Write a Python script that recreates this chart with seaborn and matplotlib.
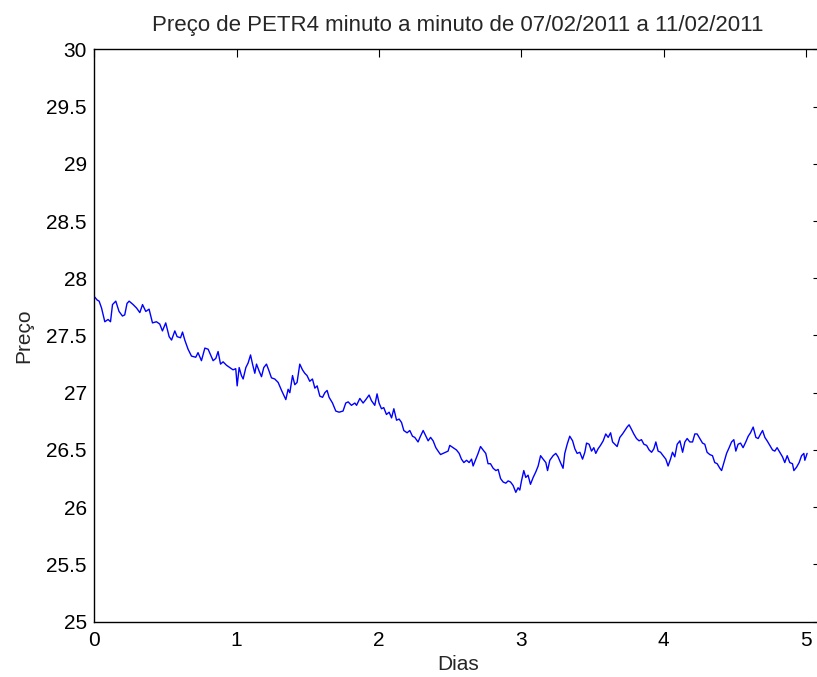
import matplotlib
matplotlib.use("Agg")
import matplotlib.pyplot as plt
import seaborn as sns

# PETR4 price sampled from the chart (days since 07/02/2011, price in R$)
dias = [
    0.000, 0.020, 0.034, 0.051, 0.074, 0.097, 0.114, 0.128, 0.151, 0.174,
    0.198, 0.214, 0.230, 0.245, 0.273, 0.297, 0.320, 0.339, 0.362, 0.385,
    0.409, 0.437, 0.460, 0.479, 0.502, 0.526, 0.543, 0.566, 0.582, 0.606,
    0.620, 0.636, 0.659, 0.683, 0.713, 0.729, 0.753, 0.777, 0.800,
    0.835, 0.854, 0.870, 0.887, 0.905, 0.929, 0.952, 0.975, 0.994, 1.004,
    1.018, 1.034, 1.046, 1.065, 1.081, 1.098, 1.112, 1.128, 1.140, 1.158,
    1.175, 1.191, 1.210, 1.228, 1.245, 1.268, 1.292, 1.316, 1.346, 1.362,
    1.374, 1.393, 1.409, 1.425, 1.444, 1.463, 1.479, 1.495, 1.514, 1.533,
    1.550, 1.566, 1.585, 1.604, 1.620, 1.636, 1.650,
    1.674, 1.697, 1.720, 1.748, 1.767, 1.784, 1.807, 1.831, 1.843, 1.866,
    1.889, 1.908, 1.931, 1.948, 1.971, 1.987, 2.001, 2.018, 2.034, 2.053,
    2.072, 2.089, 2.105, 2.124, 2.142, 2.159, 2.175, 2.198, 2.217, 2.236,
    2.252, 2.275, 2.292, 2.311, 2.330, 2.346, 2.363, 2.381, 2.400, 2.416,
    2.433, 2.451, 2.470, 2.486, 2.498,
    2.521, 2.545, 2.564, 2.580, 2.597, 2.616, 2.634, 2.651, 2.662, 2.681,
    2.697, 2.714, 2.732, 2.751, 2.767, 2.784, 2.803, 2.822, 2.838, 2.855,
    2.873, 2.892, 2.908, 2.925, 2.943, 2.962, 2.978, 2.990, 3.002, 3.018,
    3.032, 3.048, 3.065, 3.084, 3.103, 3.119, 3.136, 3.154, 3.173, 3.185,
    3.201, 3.224, 3.243, 3.259, 3.276, 3.294, 3.306, 3.323, 3.341,
    3.361, 3.377, 3.393, 3.412, 3.431, 3.447, 3.459, 3.477, 3.494, 3.510,
    3.524, 3.540, 3.557, 3.576, 3.594, 3.611, 3.628, 3.642, 3.658, 3.674,
    3.693, 3.712, 3.728, 3.744, 3.758, 3.775, 3.791, 3.810, 3.828, 3.845,
    3.862, 3.881, 3.899, 3.916, 3.932, 3.946, 3.962, 3.979, 3.997, 4.016,
    4.032, 4.049, 4.063, 4.079, 4.096, 4.115, 4.134, 4.150, 4.166, 4.185,
    4.204, 4.220, 4.236, 4.255, 4.274, 4.290, 4.306, 4.325, 4.344, 4.360,
    4.377, 4.396, 4.408, 4.424, 4.443, 4.461, 4.478, 4.494, 4.508, 4.524,
    4.541, 4.559, 4.578, 4.595, 4.611, 4.630, 4.649, 4.665, 4.682, 4.696,
    4.712, 4.728, 4.747, 4.766, 4.782, 4.798, 4.817, 4.836, 4.852, 4.869,
    4.887, 4.906, 4.916, 4.935, 4.953, 4.970, 4.986, 4.993, 5.009,
]
preco = [
    27.84, 27.81, 27.80, 27.74, 27.62, 27.64, 27.62, 27.77, 27.80, 27.71,
    27.67, 27.68, 27.78, 27.80, 27.77, 27.74, 27.70, 27.77, 27.71, 27.73,
    27.61, 27.62, 27.60, 27.54, 27.61, 27.49, 27.46, 27.54, 27.49, 27.48,
    27.53, 27.46, 27.38, 27.32, 27.31, 27.35, 27.28, 27.39, 27.38,
    27.28, 27.30, 27.36, 27.25, 27.27, 27.24, 27.22, 27.20, 27.21, 27.06,
    27.22, 27.15, 27.12, 27.22, 27.26, 27.33, 27.25, 27.17, 27.25, 27.19,
    27.14, 27.22, 27.25, 27.19, 27.13, 27.12, 27.09, 27.02, 26.94, 27.03,
    27.00, 27.15, 27.07, 27.09, 27.25, 27.20, 27.17, 27.15, 27.10, 27.12,
    27.04, 27.06, 26.97, 26.96, 27.00, 27.02, 26.96,
    26.91, 26.84, 26.83, 26.84, 26.91, 26.92, 26.89, 26.91, 26.89, 26.95,
    26.91, 26.94, 26.98, 26.93, 26.89, 26.99, 26.91, 26.86, 26.87, 26.81,
    26.83, 26.78, 26.86, 26.76, 26.77, 26.74, 26.67, 26.65, 26.67, 26.62,
    26.61, 26.57, 26.62, 26.67, 26.62, 26.58, 26.61, 26.58, 26.52, 26.49,
    26.46, 26.47, 26.48, 26.49, 26.54,
    26.52, 26.50, 26.47, 26.42, 26.39, 26.41, 26.39, 26.42, 26.36, 26.42,
    26.47, 26.53, 26.50, 26.47, 26.38, 26.38, 26.34, 26.32, 26.33, 26.25,
    26.22, 26.21, 26.23, 26.22, 26.19, 26.13, 26.17, 26.15, 26.23, 26.32,
    26.26, 26.28, 26.20, 26.26, 26.31, 26.36, 26.45, 26.42, 26.39, 26.32,
    26.41, 26.45, 26.47, 26.44, 26.39, 26.34, 26.47, 26.55, 26.62,
    26.58, 26.51, 26.47, 26.48, 26.42, 26.48, 26.56, 26.55, 26.49, 26.52,
    26.47, 26.51, 26.54, 26.58, 26.64, 26.61, 26.65, 26.57, 26.55, 26.53,
    26.61, 26.64, 26.67, 26.70, 26.72, 26.68, 26.64, 26.60, 26.58, 26.59,
    26.55, 26.54, 26.50, 26.48, 26.51, 26.57, 26.49, 26.48, 26.45, 26.42,
    26.36, 26.42, 26.48, 26.44, 26.55, 26.58, 26.48, 26.57, 26.60, 26.57,
    26.57, 26.64, 26.64, 26.60, 26.56, 26.55, 26.48, 26.46, 26.45, 26.39,
    26.38, 26.34, 26.32, 26.39, 26.47, 26.52, 26.57, 26.59, 26.49, 26.55,
    26.56, 26.52, 26.57, 26.62, 26.65, 26.70, 26.61, 26.60, 26.64, 26.67,
    26.61, 26.58, 26.54, 26.50, 26.49, 26.52, 26.48, 26.44, 26.39, 26.45,
    26.39, 26.38, 26.32, 26.35, 26.39, 26.45, 26.47, 26.41, 26.47,
]

xticks = [0, 1, 2, 3, 4, 5]
yticks = [25, 25.5, 26, 26.5, 27, 27.5, 28, 28.5, 29, 29.5, 30]
yticklabels = ["25", "25.5", "26", "26.5", "27", "27.5", "28", "28.5", "29", "29.5", "30"]

sns.set_style("white")
plt.rcParams["font.family"] = ["Liberation Sans", "DejaVu Sans"]

fig = plt.figure(figsize=(8.17, 6.77), dpi=100)
# axes runs a little past the right edge of the image, like the original
ax = fig.add_axes([0.1154, 0.0817, 0.8901, 0.8455])

sns.lineplot(x=dias, y=preco, color="blue", linewidth=1.0,
             estimator=None, sort=False, ax=ax)

ax.set_xlim(0, 5.11)
ax.set_ylim(25, 30)
ax.set_xticks(xticks)
ax.set_yticks(yticks)
ax.set_yticklabels(yticklabels)

for s in ax.spines.values():
    s.set_visible(True)
    s.set_color("black")
    s.set_linewidth(1.0)
# right border falls outside the cropped picture
ax.spines["right"].set_visible(False)

ax.tick_params(direction="in", length=6, width=0.8, color="black",
               labelsize=15, top=True, right=True, labelcolor="black")
ax.tick_params(axis="x", pad=6.5)
ax.tick_params(axis="y", pad=5.5)

ax.set_title("Preço de PETR4 minuto a minuto de 07/02/2011 a 11/02/2011",
             fontsize=16, pad=13)
ax.set_xlabel("Dias", fontsize=15, labelpad=4)
ax.set_ylabel("Preço", fontsize=15, labelpad=9)

fig.savefig("out.png", dpi=100)
